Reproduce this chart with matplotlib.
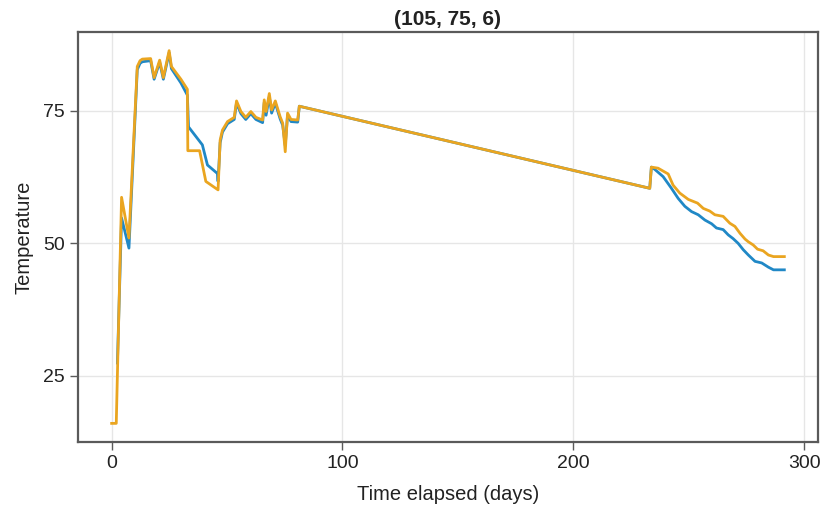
import matplotlib
matplotlib.use("Agg")
import matplotlib.pyplot as plt

plt.rcParams['font.family'] = ['Liberation Sans', 'DejaVu Sans']

# Series 1 (blue)
days_a = [2.5, 4.3, 7.5, 11.1, 12.3, 13.3, 16.9, 18.4, 20.8, 22.4, 24.9, 25.9,
          30.0, 32.8, 33.3, 39.3, 41.5, 45.8, 46.1, 47.0, 48.0, 50.2, 53.1, 54.1,
          56.0, 58.1, 60.3, 62.5, 65.4, 66.1, 66.9, 68.3, 69.3, 70.9, 73.0, 74.1,
          75.2, 76.2, 77.7, 80.6, 81.3, 233.1, 233.8, 235.2, 238.9, 242.5, 245.4,
          248.3, 251.2, 254.1, 257.0, 259.9, 262.0, 264.9, 267.1, 269.2, 271.4,
          273.6, 275.8, 278.7, 281.6, 284.5, 286.7, 291.4]
temp_a = [27.4, 54.8, 49.1, 82.8, 84.0, 84.3, 84.5, 81.0, 84.2, 81.0, 86.0, 83.0,
          80.3, 78.0, 72.0, 68.6, 64.8, 63.2, 61.7, 69.0, 71.0, 72.6, 73.4, 76.5,
          74.5, 73.4, 74.5, 73.4, 72.8, 76.6, 74.2, 77.7, 74.6, 76.5, 73.5, 72.3,
          68.5, 74.2, 73.0, 72.9, 75.9, 60.4, 64.4, 64.0, 62.6, 60.4, 58.5,
          57.0, 56.0, 55.4, 54.4, 53.7, 52.9, 52.6, 51.6, 50.9, 50.0,
          48.8, 47.8, 46.6, 46.3, 45.5, 45.0, 45.0]

# Series 2 (orange)
days_b = [0.0, 2.0, 4.3, 7.5, 11.1, 12.3, 13.3, 16.9, 18.4, 20.8, 22.4, 24.9,
          25.9, 30.0, 32.8, 33.0, 38.1, 40.8, 46.1, 47.0, 48.0, 50.2, 53.1, 54.1,
          56.0, 58.1, 60.3, 62.5, 65.4, 66.1, 66.9, 68.3, 69.3, 70.9, 73.0, 74.1,
          75.2, 76.2, 77.7, 80.6, 81.3, 233.1, 233.8, 236.7, 241.1, 243.2, 246.1,
          249.8, 253.8, 256.3, 259.1, 261.3, 264.9, 267.8, 270.0, 272.2, 274.4,
          275.8, 277.9, 279.8, 282.2, 284.5, 286.7, 291.4]
temp_b = [16.0, 16.0, 58.7, 51.0, 83.4, 84.5, 84.8, 84.9, 81.3, 84.6, 81.3, 86.4,
          83.4, 81.0, 79.1, 67.5, 67.5, 61.7, 60.1, 69.5, 71.4, 73.0, 73.8, 76.9,
          74.9, 73.8, 74.9, 73.8, 73.3, 77.1, 74.9, 78.3, 75.2, 76.9, 73.9, 72.7,
          67.3, 74.6, 73.4, 73.3, 75.9, 60.4, 64.4, 64.2, 63.1, 61.0, 59.5,
          58.3, 57.6, 56.6, 56.1, 55.4, 55.1, 53.8, 53.2, 51.9, 50.8,
          50.3, 49.7, 48.9, 48.6, 47.8, 47.5, 47.5]

x_ticks = [0, 100, 200, 300]
y_ticks = [25, 50, 75]

fig = plt.figure(figsize=(8.22, 5.12), dpi=100)
ax = fig.add_axes([0.0949, 0.1367, 0.9002, 0.8008])

ax.plot(days_a, temp_a, color="#2088c6", lw=2.0, solid_joinstyle="round", zorder=3)
ax.plot(days_b, temp_b, color="#eaa520", lw=2.0, solid_joinstyle="round", zorder=4)

# 5% padding around the data range on both axes
all_x = days_a + days_b
all_y = temp_a + temp_b
xr = max(all_x) - min(all_x)
yr = max(all_y) - min(all_y)
ax.set_xlim(min(all_x) - 0.05 * xr, max(all_x) + 0.05 * xr)
ax.set_ylim(min(all_y) - 0.05 * yr, max(all_y) + 0.05 * yr)

ax.set_xticks(x_ticks)
ax.set_yticks(y_ticks)
ax.grid(True, color="#e6e6e6", lw=1.0, zorder=0)
ax.set_axisbelow(True)

for s in ax.spines.values():
    s.set_color("#5a5a5a")
    s.set_linewidth(1.6)

ax.tick_params(axis="both", direction="out", length=5.5, width=1.0, color="#5a5a5a",
               labelsize=14, labelcolor="#222222", pad=4)

ax.set_xlabel("Time elapsed (days)", fontsize=14.5, color="#222222", labelpad=9)
ax.set_ylabel("Temperature", fontsize=14.5, color="#222222", labelpad=7)
ax.set_title("(105, 75, 6)", fontsize=15, fontweight="bold", color="#222222", pad=5)

fig.savefig("out.png", dpi=100, facecolor="white")
